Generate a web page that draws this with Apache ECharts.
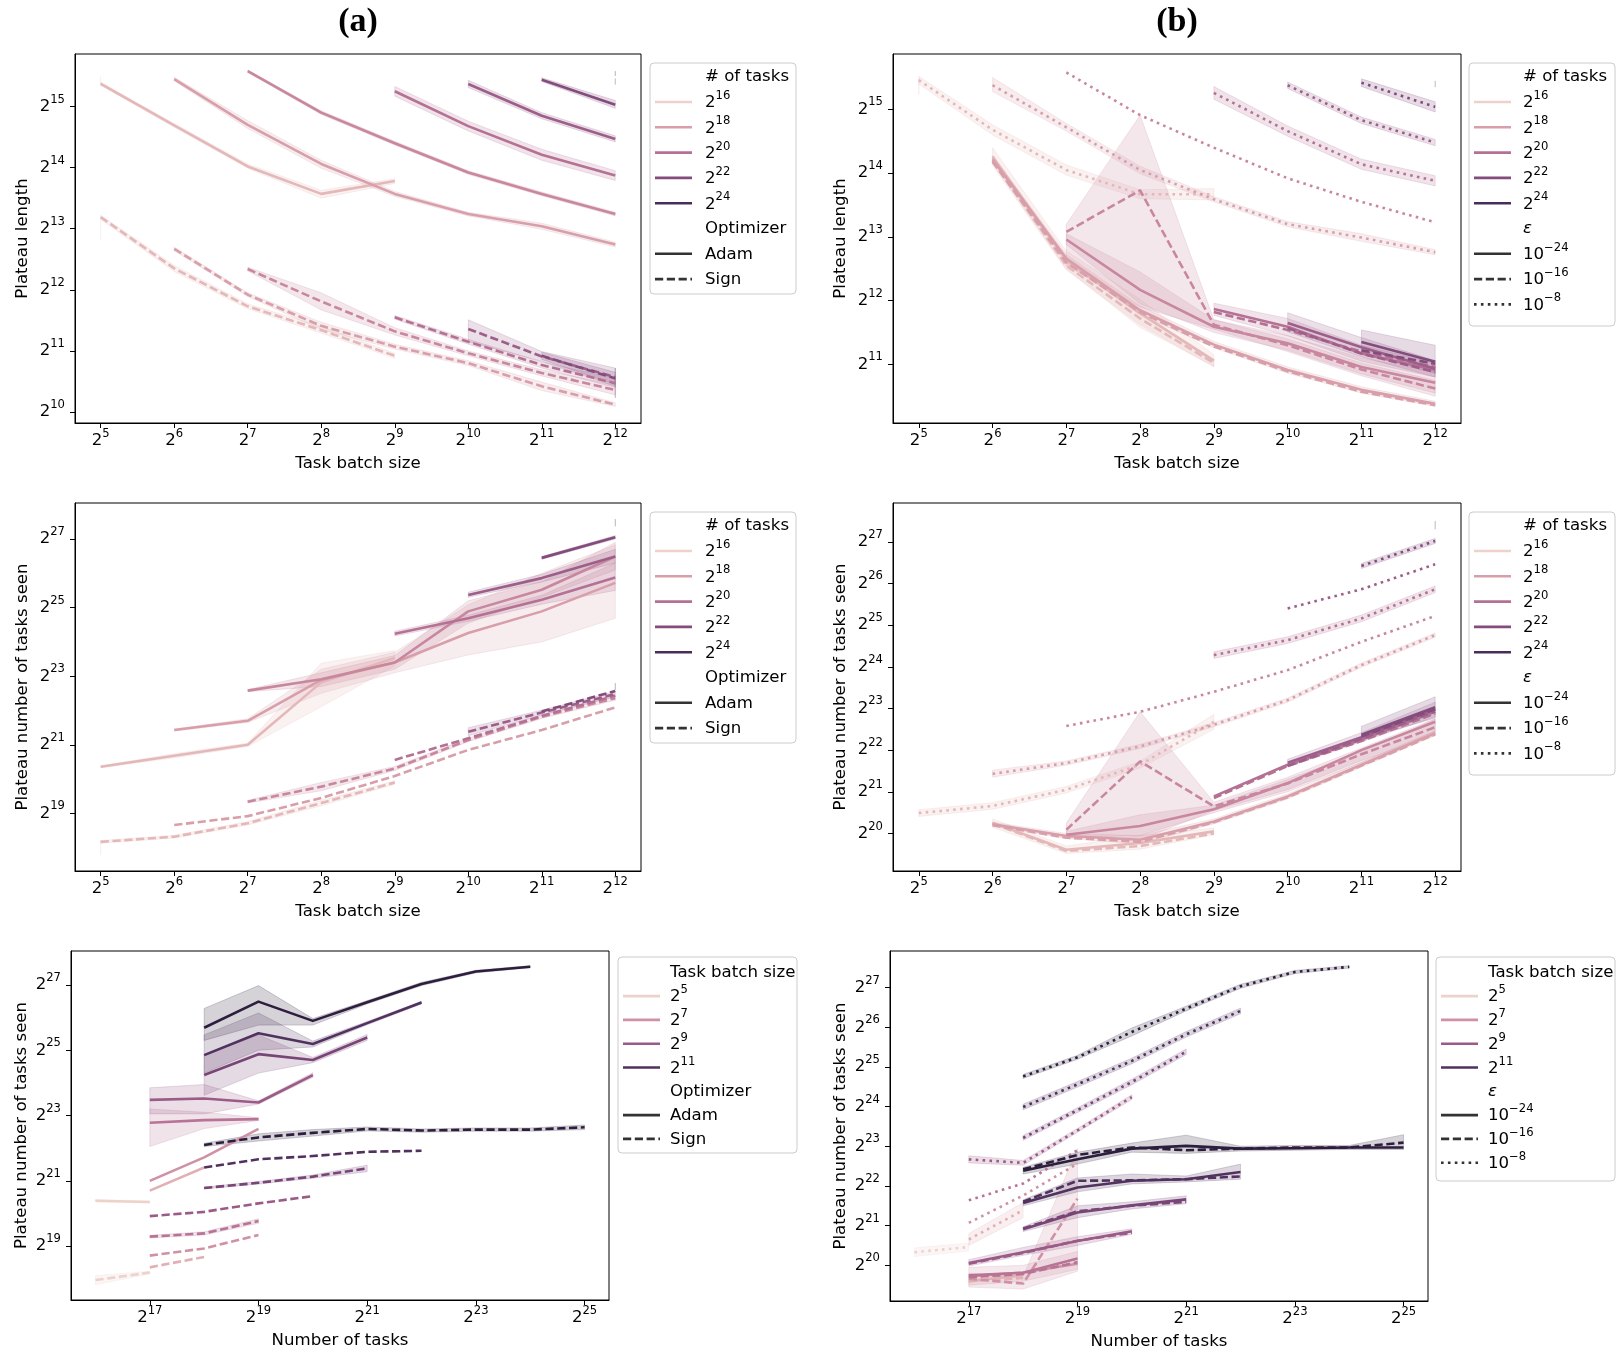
<!DOCTYPE html>
<html><head><meta charset="utf-8">
<script src="https://cdn.jsdelivr.net/npm/echarts@6/dist/echarts.min.js"></script>
<style>html,body{margin:0;padding:0;background:#fff}#c{width:1622px;height:1358px}</style>
</head><body><div id="c"></div>
<script>
// ================= DATA (all values are base-2 exponents) =================
// axis ticks
const BATCH_TICKS = [5, 6, 7, 8, 9, 10, 11, 12];
const NTASK_TICKS = [17, 19, 21, 23, 25];
const A1_Y_TICKS = [10, 11, 12, 13, 14, 15];
const B1_Y_TICKS = [11, 12, 13, 14, 15];
const A2_Y_TICKS = [19, 21, 23, 25, 27];
const B2_Y_TICKS = [20, 21, 22, 23, 24, 25, 26, 27];
const C_Y_TICKS = [19, 21, 23, 25, 27];
const D_Y_TICKS = [20, 21, 22, 23, 24, 25, 26, 27];
// legend entries
const LEGEND_TASK_EXPS = [16, 18, 20, 22, 24];
const LEGEND_BATCH_EXPS = [5, 7, 9, 11];
const LEGEND_OPTIMIZERS = ['Adam', 'Sign'];
const LEGEND_EPS_EXPS = ['\u221224', '\u221216', '\u22128'];

// ---- (a) top: plateau length vs task batch size, hue = # of tasks ----
const A1_ADAM_N16_CI = [[5, 15.33, 15.49]];
const A1_ADAM_N17 = [[5, 15.37], [6, 14.69], [7, 14.02], [8, 13.57], [9, 13.78]];
const A1_ADAM_N17_CI = [[5, 15.35, 15.40], [6, 14.66, 14.72], [7, 13.99, 14.06], [8, 13.50, 13.63], [9, 13.74, 13.82]];
const A1_ADAM_N18 = [[6, 15.45], [7, 14.70], [8, 14.06], [9, 13.57], [10, 13.24], [11, 13.04], [12, 12.74]];
const A1_ADAM_N18_CI = [[6, 15.42, 15.48], [7, 14.64, 14.77], [8, 13.99, 14.12], [9, 13.53, 13.61], [10, 13.21, 13.27], [11, 12.99, 13.09], [12, 12.70, 12.78]];
const A1_ADAM_N19 = [[7, 15.58], [8, 14.90], [9, 14.40], [10, 13.92], [11, 13.57], [12, 13.24]];
const A1_ADAM_N19_CI = [[7, 15.56, 15.60], [8, 14.87, 14.93], [9, 14.37, 14.43], [10, 13.89, 13.95], [11, 13.54, 13.60], [12, 13.21, 13.27]];
const A1_ADAM_N20 = [[9, 15.25], [10, 14.68], [11, 14.21], [12, 13.87]];
const A1_ADAM_N20_CI = [[9, 15.17, 15.33], [10, 14.60, 14.76], [11, 14.12, 14.30], [12, 13.79, 13.95]];
const A1_ADAM_N21 = [[10, 15.37], [11, 14.85], [12, 14.47]];
const A1_ADAM_N21_CI = [[10, 15.31, 15.43], [11, 14.80, 14.90], [12, 14.42, 14.52]];
const A1_ADAM_N22 = [[11, 15.44], [12, 15.03]];
const A1_ADAM_N22_CI = [[11, 15.41, 15.47], [12, 14.97, 15.10]];
const A1_ADAM_N23_CI = [[12, 15.36, 15.46]];
const A1_ADAM_N24_CI = [[12, 15.50, 15.58]];
const A1_SIGN_N16_CI = [[5, 12.82, 13.17]];
const A1_SIGN_N17 = [[5, 13.19], [6, 12.35], [7, 11.73], [8, 11.34], [9, 10.92]];
const A1_SIGN_N17_CI = [[5, 13.15, 13.22], [6, 12.30, 12.40], [7, 11.69, 11.77], [8, 11.29, 11.40], [9, 10.88, 10.96]];
const A1_SIGN_N18 = [[6, 12.67], [7, 11.92], [8, 11.41], [9, 11.07], [10, 10.80], [11, 10.42], [12, 10.12]];
const A1_SIGN_N18_CI = [[6, 12.64, 12.70], [7, 11.89, 11.95], [8, 11.35, 11.47], [9, 11.03, 11.11], [10, 10.76, 10.84], [11, 10.35, 10.49], [12, 10.09, 10.15]];
const A1_SIGN_N19 = [[7, 12.34], [8, 11.81], [9, 11.32], [10, 10.96], [11, 10.64], [12, 10.36]];
const A1_SIGN_N19_CI = [[7, 12.31, 12.37], [8, 11.67, 11.95], [9, 11.26, 11.38], [10, 10.92, 11.00], [11, 10.59, 10.69], [12, 10.28, 10.44]];
const A1_SIGN_N20 = [[9, 11.55], [10, 11.15], [11, 10.77], [12, 10.47]];
const A1_SIGN_N20_CI = [[9, 11.52, 11.58], [10, 11.11, 11.19], [11, 10.72, 10.82], [12, 10.40, 10.55]];
const A1_SIGN_N21 = [[10, 11.36], [11, 10.91], [12, 10.57]];
const A1_SIGN_N21_CI = [[10, 11.15, 11.51], [11, 10.83, 10.99], [12, 10.42, 10.72]];
const A1_SIGN_N22 = [[11, 10.92], [12, 10.55]];
const A1_SIGN_N22_CI = [[11, 10.86, 10.98], [12, 10.45, 10.65]];
const A1_SIGN_N24_CI = [[12, 10.23, 10.72]];

// ---- (b) top: plateau length vs task batch size, style = epsilon ----
const B1_E8_N16_CI = [[5, 15.23, 15.49]];
const B1_E8_N17 = [[5, 15.46], [6, 14.68], [7, 14.05], [8, 13.67], [9, 13.67]];
const B1_E8_N17_CI = [[5, 15.40, 15.52], [6, 14.60, 14.76], [7, 13.97, 14.13], [8, 13.60, 13.74], [9, 13.58, 13.76]];
const B1_E8_N18 = [[6, 15.38], [7, 14.72], [8, 14.05], [9, 13.59], [10, 13.20], [11, 12.99], [12, 12.76]];
const B1_E8_N18_CI = [[6, 15.28, 15.50], [7, 14.66, 14.78], [8, 13.99, 14.11], [9, 13.55, 13.63], [10, 13.16, 13.24], [11, 12.93, 13.05], [12, 12.72, 12.80]];
const B1_E8_N19 = [[7, 15.58], [8, 14.91], [9, 14.40], [10, 13.92], [11, 13.55], [12, 13.23]];
const B1_E8_N20 = [[9, 15.26], [10, 14.66], [11, 14.14], [12, 13.88]];
const B1_E8_N20_CI = [[9, 15.16, 15.36], [10, 14.58, 14.74], [11, 14.06, 14.22], [12, 13.80, 13.96]];
const B1_E8_N21 = [[10, 15.38], [11, 14.83], [12, 14.48]];
const B1_E8_N21_CI = [[10, 15.33, 15.43], [11, 14.78, 14.88], [12, 14.43, 14.53]];
const B1_E8_N22 = [[11, 15.42], [12, 15.04]];
const B1_E8_N22_CI = [[11, 15.36, 15.48], [12, 14.96, 15.12]];
const B1_E8_N23_CI = [[12, 15.35, 15.45]];
const B1_E24_N17 = [[6, 14.26], [7, 12.64], [8, 11.80], [9, 11.06]];
const B1_E24_N17_CI = [[6, 14.15, 14.40], [7, 12.50, 12.78], [8, 11.58, 12.02], [9, 10.97, 11.15]];
const B1_E24_N18 = [[6, 14.22], [7, 12.66], [8, 11.85], [9, 11.31], [10, 10.91], [11, 10.60], [12, 10.38]];
const B1_E24_N18_CI = [[6, 14.17, 14.27], [7, 12.60, 12.72], [8, 11.78, 11.92], [9, 11.26, 11.36], [10, 10.86, 10.96], [11, 10.55, 10.65], [12, 10.34, 10.42]];
const B1_E24_N19 = [[7, 12.96], [8, 12.17], [9, 11.59], [10, 11.33], [11, 10.96], [12, 10.71]];
const B1_E24_N19_CI = [[7, 12.88, 13.05], [8, 11.95, 12.45], [9, 11.50, 11.70], [10, 11.22, 11.45], [11, 10.85, 11.10], [12, 10.55, 10.88]];
const B1_E24_N20 = [[9, 11.87], [10, 11.59], [11, 11.17], [12, 10.91]];
const B1_E24_N20_CI = [[9, 11.77, 11.96], [10, 11.45, 11.72], [11, 11.05, 11.30], [12, 10.80, 11.02]];
const B1_E24_N21 = [[10, 11.65], [11, 11.27], [12, 10.93]];
const B1_E24_N21_CI = [[10, 11.51, 11.81], [11, 11.12, 11.42], [12, 10.80, 11.06]];
const B1_E24_N22 = [[11, 11.35], [12, 11.04]];
const B1_E24_N22_CI = [[11, 11.17, 11.54], [12, 10.86, 11.30]];
const B1_E16_N17 = [[6, 14.20], [7, 12.55], [8, 11.72], [9, 11.02]];
const B1_E16_N17_CI = [[6, 14.12, 14.28], [7, 12.48, 12.62], [8, 11.62, 11.82], [9, 10.96, 11.08]];
const B1_E16_N18 = [[6, 14.18], [7, 12.60], [8, 11.82], [9, 11.28], [10, 10.89], [11, 10.57], [12, 10.36]];
const B1_E16_N19 = [[7, 13.08], [8, 13.73], [9, 11.62], [10, 11.30], [11, 10.92], [12, 10.62]];
const B1_E16_N19_CI = [[7, 12.55, 13.20], [8, 11.90, 14.91], [9, 11.55, 11.70], [10, 11.20, 11.40], [11, 10.82, 11.02], [12, 10.50, 10.75]];
const B1_E16_N20 = [[9, 11.82], [10, 11.54], [11, 11.20], [12, 10.96]];
const B1_E16_N21 = [[10, 11.57], [11, 11.17], [12, 10.88]];
const B1_E16_N22 = [[11, 11.22], [12, 11.01]];

// ---- (a) middle: plateau number of tasks seen vs task batch size ----
const A2_ADAM_N17 = [[5, 20.36], [6, 20.68], [7, 21.00], [8, 22.82], [9, 23.53]];
const A2_ADAM_N17_CI = [[5, 20.33, 20.39], [6, 20.62, 20.74], [7, 20.95, 21.05], [8, 22.11, 23.38], [9, 23.30, 23.75]];
const A2_ADAM_N18 = [[6, 21.43], [7, 21.70], [8, 22.89], [9, 23.40], [10, 24.26], [11, 24.89], [12, 25.72]];
const A2_ADAM_N18_CI = [[6, 21.40, 21.46], [7, 21.65, 21.76], [8, 22.50, 23.20], [9, 23.10, 23.70], [10, 23.62, 25.08], [11, 24.00, 26.00], [12, 24.69, 26.83]];
const A2_ADAM_N19 = [[7, 22.58], [8, 22.91], [9, 23.40], [10, 24.89], [11, 25.52], [12, 26.49]];
const A2_ADAM_N19_CI = [[7, 22.55, 22.61], [8, 22.70, 23.10], [9, 23.20, 23.60], [10, 24.55, 25.20], [11, 25.30, 25.75], [12, 26.10, 26.90]];
const A2_ADAM_N20 = [[9, 24.24], [10, 24.69], [11, 25.23], [12, 25.88]];
const A2_ADAM_N20_CI = [[9, 24.17, 24.31], [10, 24.60, 24.78], [11, 25.10, 25.36], [12, 25.50, 26.30]];
const A2_ADAM_N21 = [[10, 25.37], [11, 25.86], [12, 26.49]];
const A2_ADAM_N21_CI = [[10, 25.30, 25.45], [11, 25.75, 25.97], [12, 26.30, 26.70]];
const A2_ADAM_N22 = [[11, 26.45], [12, 27.05]];
const A2_ADAM_N22_CI = [[11, 26.41, 26.49], [12, 27.00, 27.10]];
const A2_ADAM_N24_CI = [[12, 27.37, 27.58]];
const A2_SIGN_N16_CI = [[5, 17.78, 18.22]];
const A2_SIGN_N17 = [[5, 18.17], [6, 18.32], [7, 18.71], [8, 19.30], [9, 19.90]];
const A2_SIGN_N17_CI = [[5, 18.13, 18.21], [6, 18.28, 18.36], [7, 18.66, 18.76], [8, 19.22, 19.38], [9, 19.85, 19.95]];
const A2_SIGN_N18 = [[6, 18.66], [7, 18.92], [8, 19.45], [9, 20.09], [10, 20.85], [11, 21.43], [12, 22.09]];
const A2_SIGN_N19 = [[7, 19.34], [8, 19.78], [9, 20.31], [10, 21.14], [11, 21.82], [12, 22.36]];
const A2_SIGN_N19_CI = [[7, 19.30, 19.38], [8, 19.66, 19.90], [9, 20.25, 20.37], [10, 21.09, 21.19], [11, 21.77, 21.87], [12, 22.30, 22.42]];
const A2_SIGN_N20 = [[9, 20.56], [10, 21.19], [11, 21.84], [12, 22.43]];
const A2_SIGN_N21 = [[10, 21.38], [11, 21.94], [12, 22.48]];
const A2_SIGN_N21_CI = [[10, 21.26, 21.50], [11, 21.87, 22.01], [12, 22.40, 22.56]];
const A2_SIGN_N22 = [[11, 21.97], [12, 22.57]];
const A2_SIGN_N24_CI = [[12, 22.60, 22.80]];

// ---- (b) middle ----
const B2_E8_N17 = [[5, 20.49], [6, 20.66], [7, 21.05], [8, 21.65], [9, 22.68]];
const B2_E8_N17_CI = [[5, 20.41, 20.57], [6, 20.58, 20.74], [7, 20.97, 21.13], [8, 21.57, 21.73], [9, 22.50, 22.86]];
const B2_E8_N18 = [[6, 21.43], [7, 21.69], [8, 22.09], [9, 22.61], [10, 23.20], [11, 24.04], [12, 24.76]];
const B2_E8_N18_CI = [[6, 21.35, 21.52], [7, 21.64, 21.74], [8, 22.04, 22.14], [9, 22.56, 22.66], [10, 23.15, 23.25], [11, 23.99, 24.09], [12, 24.71, 24.81]];
const B2_E8_N19 = [[7, 22.58], [8, 22.92], [9, 23.40], [10, 23.92], [11, 24.60], [12, 25.22]];
const B2_E8_N20 = [[9, 24.28], [10, 24.64], [11, 25.16], [12, 25.86]];
const B2_E8_N20_CI = [[9, 24.20, 24.36], [10, 24.56, 24.72], [11, 25.08, 25.24], [12, 25.78, 25.94]];
const B2_E8_N21 = [[10, 25.40], [11, 25.86], [12, 26.46]];
const B2_E8_N22 = [[11, 26.42], [12, 27.02]];
const B2_E8_N22_CI = [[11, 26.36, 26.48], [12, 26.96, 27.08]];
const B2_E8_N23_CI = [[12, 27.30, 27.50]];
const B2_E24_N17 = [[6, 20.26], [7, 19.61], [8, 19.77], [9, 20.05]];
const B2_E24_N17_CI = [[6, 20.15, 20.35], [7, 19.52, 19.70], [8, 19.62, 19.95], [9, 19.97, 20.13]];
const B2_E24_N18 = [[6, 20.22], [7, 19.94], [8, 19.85], [9, 20.29], [10, 20.89], [11, 21.65], [12, 22.41]];
const B2_E24_N18_CI = [[6, 20.17, 20.27], [7, 19.88, 20.00], [8, 19.75, 19.95], [9, 20.23, 20.35], [10, 20.83, 20.95], [11, 21.59, 21.71], [12, 22.35, 22.47]];
const B2_E24_N19 = [[7, 19.97], [8, 20.18], [9, 20.58], [10, 21.21], [11, 22.00], [12, 22.68]];
const B2_E24_N19_CI = [[7, 19.90, 20.05], [8, 19.95, 20.45], [9, 20.50, 20.68], [10, 21.00, 21.30], [11, 21.70, 21.95], [12, 22.45, 22.75]];
const B2_E24_N20 = [[9, 20.89], [10, 21.65], [11, 22.25], [12, 22.92]];
const B2_E24_N21 = [[10, 21.70], [11, 22.31], [12, 22.98]];
const B2_E24_N21_CI = [[10, 21.60, 21.78], [11, 22.20, 22.42], [12, 22.80, 23.15]];
const B2_E24_N22 = [[11, 22.37], [12, 23.03]];
const B2_E24_N22_CI = [[11, 22.25, 22.57], [12, 22.77, 23.28]];
const B2_E16_N17 = [[6, 20.24], [7, 19.58], [8, 19.70], [9, 20.00]];
const B2_E16_N18 = [[6, 20.20], [7, 19.90], [8, 19.80], [9, 20.27], [10, 20.87], [11, 21.63], [12, 22.38]];
const B2_E16_N19 = [[7, 20.09], [8, 21.73], [9, 20.65], [10, 21.20], [11, 21.90], [12, 22.55]];
const B2_E16_N19_CI = [[7, 19.95, 20.25], [8, 19.85, 22.92], [9, 20.55, 20.75], [10, 21.05, 21.35], [11, 21.75, 22.05], [12, 22.35, 22.75]];
const B2_E16_N20 = [[9, 20.85], [10, 21.62], [11, 22.22], [12, 22.88]];
const B2_E16_N21 = [[10, 21.62], [11, 22.27], [12, 22.93]];
const B2_E16_N22 = [[11, 22.33], [12, 22.98]];

// ---- (a) bottom: tasks seen vs number of tasks, hue = task batch size ----
const C_ADAM_B5 = [[16, 20.39], [17, 20.35]];
const C_ADAM_B5_CI = [[16, 20.35, 20.43], [17, 20.32, 20.38]];
const C_ADAM_B6 = [[17, 20.70], [18, 21.41]];
const C_ADAM_B7 = [[17, 21.00], [18, 21.72], [19, 22.59]];
const C_ADAM_B8 = [[17, 22.78], [18, 22.86], [19, 22.89]];
const C_ADAM_B8_CI = [[17, 22.05, 23.20], [18, 22.60, 23.10], [19, 22.85, 22.93]];
const C_ADAM_B9 = [[17, 23.48], [18, 23.52], [19, 23.40], [20, 24.24]];
const C_ADAM_B9_CI = [[17, 23.05, 23.85], [18, 23.05, 23.95], [19, 23.35, 23.45], [20, 24.17, 24.31]];
const C_ADAM_B10 = [[18, 24.24], [19, 24.88], [20, 24.70], [21, 25.39]];
const C_ADAM_B10_CI = [[18, 23.62, 24.85], [19, 24.30, 25.47], [20, 24.62, 24.78], [21, 25.30, 25.48]];
const C_ADAM_B11 = [[18, 24.85], [19, 25.52], [20, 25.19], [21, 25.83], [22, 26.46]];
const C_ADAM_B11_CI = [[18, 24.30, 25.47], [19, 25.00, 26.14], [20, 25.10, 25.28], [21, 25.78, 25.88], [22, 26.42, 26.50]];
const C_ADAM_B12 = [[18, 25.69], [19, 26.49], [20, 25.90], [21, 26.47], [22, 27.03], [23, 27.41], [24, 27.56]];
const C_ADAM_B12_CI = [[18, 25.30, 26.28], [19, 25.77, 26.98], [20, 25.77, 25.97], [21, 26.42, 26.52], [22, 26.98, 27.08], [23, 27.37, 27.45], [24, 27.53, 27.59]];
const C_SIGN_B5 = [[16, 17.96], [17, 18.19]];
const C_SIGN_B5_CI = [[16, 17.82, 18.10], [17, 18.15, 18.23]];
const C_SIGN_B6 = [[17, 18.35], [18, 18.67]];
const C_SIGN_B7 = [[17, 18.71], [18, 18.93], [19, 19.34]];
const C_SIGN_B8 = [[17, 19.29], [18, 19.39], [19, 19.77]];
const C_SIGN_B8_CI = [[17, 19.25, 19.33], [18, 19.34, 19.44], [19, 19.70, 19.84]];
const C_SIGN_B9 = [[17, 19.92], [18, 20.05], [19, 20.31], [20, 20.53]];
const C_SIGN_B10 = [[18, 20.78], [19, 20.94], [20, 21.13], [21, 21.38]];
const C_SIGN_B10_CI = [[18, 20.75, 20.81], [19, 20.90, 20.98], [20, 21.08, 21.18], [21, 21.28, 21.48]];
const C_SIGN_B11 = [[18, 21.41], [19, 21.66], [20, 21.76], [21, 21.89], [22, 21.92]];
const C_SIGN_B12 = [[18, 22.10], [19, 22.33], [20, 22.47], [21, 22.59], [22, 22.54], [23, 22.57], [24, 22.57], [25, 22.64]];
const C_SIGN_B12_CI = [[18, 22.05, 22.15], [19, 22.22, 22.44], [20, 22.37, 22.57], [21, 22.53, 22.65], [22, 22.49, 22.59], [23, 22.52, 22.62], [24, 22.52, 22.62], [25, 22.57, 22.71]];

// ---- (b) bottom ----
const D_E8_B5 = [[16, 20.33], [17, 20.46]];
const D_E8_B5_CI = [[16, 20.22, 20.44], [17, 20.36, 20.56]];
const D_E8_B6 = [[17, 20.65], [18, 21.39]];
const D_E8_B6_CI = [[17, 20.50, 20.80], [18, 21.20, 21.58]];
const D_E8_B7 = [[17, 21.07], [18, 21.76], [19, 22.56]];
const D_E8_B8 = [[17, 21.64], [18, 22.06], [19, 22.90]];
const D_E8_B9 = [[17, 22.67], [18, 22.58], [19, 23.40], [20, 24.24]];
const D_E8_B9_CI = [[17, 22.58, 22.76], [18, 22.52, 22.64], [19, 23.35, 23.45], [20, 24.18, 24.30]];
const D_E8_B10 = [[18, 23.21], [19, 23.91], [20, 24.62], [21, 25.38]];
const D_E8_B10_CI = [[18, 23.15, 23.27], [19, 23.85, 23.97], [20, 24.55, 24.69], [21, 25.31, 25.45]];
const D_E8_B11 = [[18, 23.99], [19, 24.56], [20, 25.15], [21, 25.82], [22, 26.41]];
const D_E8_B11_CI = [[18, 23.92, 24.06], [19, 24.49, 24.63], [20, 25.08, 25.22], [21, 25.75, 25.89], [22, 26.34, 26.48]];
const D_E8_B12 = [[18, 24.76], [19, 25.24], [20, 25.88], [21, 26.47], [22, 27.03], [23, 27.39], [24, 27.52]];
const D_E8_B12_CI = [[18, 24.71, 24.81], [19, 25.19, 25.29], [20, 25.78, 25.98], [21, 26.41, 26.53], [22, 26.98, 27.08], [23, 27.35, 27.43], [24, 27.49, 27.55]];
const D_E24_B6 = [[17, 19.60], [18, 19.75]];
const D_E24_B7 = [[17, 19.72], [18, 19.82], [19, 20.04]];
const D_E24_B7_CI = [[17, 19.50, 19.95], [18, 19.60, 20.00], [19, 19.90, 20.35]];
const D_E24_B8 = [[17, 19.75], [18, 19.81], [19, 20.17]];
const D_E24_B9 = [[17, 20.06], [18, 20.33], [19, 20.61], [20, 20.86]];
const D_E24_B9_CI = [[17, 19.98, 20.14], [18, 20.25, 20.45], [19, 20.50, 20.72], [20, 20.78, 20.92]];
const D_E24_B10 = [[18, 20.91], [19, 21.33], [20, 21.51], [21, 21.66]];
const D_E24_B10_CI = [[18, 20.85, 20.97], [19, 21.20, 21.50], [20, 21.42, 21.60], [21, 21.55, 21.75]];
const D_E24_B11 = [[18, 21.57], [19, 21.96], [20, 22.13], [21, 22.17], [22, 22.35]];
const D_E24_B11_CI = [[18, 21.50, 21.65], [19, 21.85, 22.20], [20, 22.05, 22.30], [21, 22.10, 22.25], [22, 22.17, 22.55]];
const D_E24_B12 = [[18, 22.38], [19, 22.67], [20, 22.94], [21, 23.01], [22, 22.94], [23, 22.95], [24, 22.97], [25, 22.97]];
const D_E24_B12_CI = [[18, 22.30, 22.47], [19, 22.55, 22.85], [20, 22.85, 23.08], [21, 22.82, 23.28], [22, 22.88, 23.00], [23, 22.90, 23.02], [24, 22.92, 23.02], [25, 22.92, 23.29]];
const D_E16_B6 = [[17, 19.60], [18, 19.68]];
const D_E16_B7 = [[17, 19.66], [18, 19.54], [19, 21.68]];
const D_E16_B7_CI = [[17, 19.45, 19.80], [18, 19.40, 19.72], [19, 19.85, 22.94]];
const D_E16_B8 = [[17, 19.70], [18, 19.78], [19, 20.08]];
const D_E16_B9 = [[17, 20.04], [18, 20.31], [19, 20.62], [20, 20.82]];
const D_E16_B10 = [[18, 20.93], [19, 21.36], [20, 21.50], [21, 21.60]];
const D_E16_B11 = [[18, 21.60], [19, 22.13], [20, 22.14], [21, 22.17], [22, 22.24]];
const D_E16_B12 = [[18, 22.42], [19, 22.78], [20, 22.97], [21, 22.90], [22, 22.94], [23, 22.97], [24, 22.97], [25, 23.09]];

// ---- tables linking hue level, line style, line and band ----
const A1_TABLE = [
  {hue: 16, style: 'solid', ci: A1_ADAM_N16_CI},
  {hue: 17, style: 'solid', line: A1_ADAM_N17, ci: A1_ADAM_N17_CI},
  {hue: 18, style: 'solid', line: A1_ADAM_N18, ci: A1_ADAM_N18_CI},
  {hue: 19, style: 'solid', line: A1_ADAM_N19, ci: A1_ADAM_N19_CI},
  {hue: 20, style: 'solid', line: A1_ADAM_N20, ci: A1_ADAM_N20_CI},
  {hue: 21, style: 'solid', line: A1_ADAM_N21, ci: A1_ADAM_N21_CI},
  {hue: 22, style: 'solid', line: A1_ADAM_N22, ci: A1_ADAM_N22_CI},
  {hue: 23, style: 'solid', ci: A1_ADAM_N23_CI},
  {hue: 24, style: 'solid', ci: A1_ADAM_N24_CI},
  {hue: 16, style: 'dashed', ci: A1_SIGN_N16_CI},
  {hue: 17, style: 'dashed', line: A1_SIGN_N17, ci: A1_SIGN_N17_CI},
  {hue: 18, style: 'dashed', line: A1_SIGN_N18, ci: A1_SIGN_N18_CI},
  {hue: 19, style: 'dashed', line: A1_SIGN_N19, ci: A1_SIGN_N19_CI},
  {hue: 20, style: 'dashed', line: A1_SIGN_N20, ci: A1_SIGN_N20_CI},
  {hue: 21, style: 'dashed', line: A1_SIGN_N21, ci: A1_SIGN_N21_CI},
  {hue: 22, style: 'dashed', line: A1_SIGN_N22, ci: A1_SIGN_N22_CI},
  {hue: 24, style: 'dashed', ci: A1_SIGN_N24_CI}
];
const B1_TABLE = [
  {hue: 16, style: 'dotted', ci: B1_E8_N16_CI},
  {hue: 17, style: 'dotted', line: B1_E8_N17, ci: B1_E8_N17_CI},
  {hue: 18, style: 'dotted', line: B1_E8_N18, ci: B1_E8_N18_CI},
  {hue: 19, style: 'dotted', line: B1_E8_N19},
  {hue: 20, style: 'dotted', line: B1_E8_N20, ci: B1_E8_N20_CI},
  {hue: 21, style: 'dotted', line: B1_E8_N21, ci: B1_E8_N21_CI},
  {hue: 22, style: 'dotted', line: B1_E8_N22, ci: B1_E8_N22_CI},
  {hue: 23, style: 'dotted', ci: B1_E8_N23_CI},
  {hue: 17, style: 'solid', line: B1_E24_N17, ci: B1_E24_N17_CI},
  {hue: 17, style: 'dashed', line: B1_E16_N17, ci: B1_E16_N17_CI},
  {hue: 18, style: 'solid', line: B1_E24_N18, ci: B1_E24_N18_CI},
  {hue: 18, style: 'dashed', line: B1_E16_N18},
  {hue: 19, style: 'solid', line: B1_E24_N19, ci: B1_E24_N19_CI},
  {hue: 19, style: 'dashed', line: B1_E16_N19, ci: B1_E16_N19_CI},
  {hue: 20, style: 'solid', line: B1_E24_N20, ci: B1_E24_N20_CI},
  {hue: 20, style: 'dashed', line: B1_E16_N20},
  {hue: 21, style: 'solid', line: B1_E24_N21, ci: B1_E24_N21_CI},
  {hue: 21, style: 'dashed', line: B1_E16_N21},
  {hue: 22, style: 'solid', line: B1_E24_N22, ci: B1_E24_N22_CI},
  {hue: 22, style: 'dashed', line: B1_E16_N22}
];
const A2_TABLE = [
  {hue: 17, style: 'solid', line: A2_ADAM_N17, ci: A2_ADAM_N17_CI},
  {hue: 18, style: 'solid', line: A2_ADAM_N18, ci: A2_ADAM_N18_CI},
  {hue: 19, style: 'solid', line: A2_ADAM_N19, ci: A2_ADAM_N19_CI},
  {hue: 20, style: 'solid', line: A2_ADAM_N20, ci: A2_ADAM_N20_CI},
  {hue: 21, style: 'solid', line: A2_ADAM_N21, ci: A2_ADAM_N21_CI},
  {hue: 22, style: 'solid', line: A2_ADAM_N22, ci: A2_ADAM_N22_CI},
  {hue: 24, style: 'solid', ci: A2_ADAM_N24_CI},
  {hue: 16, style: 'dashed', ci: A2_SIGN_N16_CI},
  {hue: 17, style: 'dashed', line: A2_SIGN_N17, ci: A2_SIGN_N17_CI},
  {hue: 18, style: 'dashed', line: A2_SIGN_N18},
  {hue: 19, style: 'dashed', line: A2_SIGN_N19, ci: A2_SIGN_N19_CI},
  {hue: 20, style: 'dashed', line: A2_SIGN_N20},
  {hue: 21, style: 'dashed', line: A2_SIGN_N21, ci: A2_SIGN_N21_CI},
  {hue: 22, style: 'dashed', line: A2_SIGN_N22},
  {hue: 24, style: 'dashed', ci: A2_SIGN_N24_CI}
];
const B2_TABLE = [
  {hue: 17, style: 'dotted', line: B2_E8_N17, ci: B2_E8_N17_CI},
  {hue: 18, style: 'dotted', line: B2_E8_N18, ci: B2_E8_N18_CI},
  {hue: 19, style: 'dotted', line: B2_E8_N19},
  {hue: 20, style: 'dotted', line: B2_E8_N20, ci: B2_E8_N20_CI},
  {hue: 21, style: 'dotted', line: B2_E8_N21},
  {hue: 22, style: 'dotted', line: B2_E8_N22, ci: B2_E8_N22_CI},
  {hue: 23, style: 'dotted', ci: B2_E8_N23_CI},
  {hue: 17, style: 'solid', line: B2_E24_N17, ci: B2_E24_N17_CI},
  {hue: 17, style: 'dashed', line: B2_E16_N17},
  {hue: 18, style: 'solid', line: B2_E24_N18, ci: B2_E24_N18_CI},
  {hue: 18, style: 'dashed', line: B2_E16_N18},
  {hue: 19, style: 'solid', line: B2_E24_N19, ci: B2_E24_N19_CI},
  {hue: 19, style: 'dashed', line: B2_E16_N19, ci: B2_E16_N19_CI},
  {hue: 20, style: 'solid', line: B2_E24_N20},
  {hue: 20, style: 'dashed', line: B2_E16_N20},
  {hue: 21, style: 'solid', line: B2_E24_N21, ci: B2_E24_N21_CI},
  {hue: 21, style: 'dashed', line: B2_E16_N21},
  {hue: 22, style: 'solid', line: B2_E24_N22, ci: B2_E24_N22_CI},
  {hue: 22, style: 'dashed', line: B2_E16_N22}
];
const C_TABLE = [
  {hue: 5, style: 'solid', line: C_ADAM_B5, ci: C_ADAM_B5_CI},
  {hue: 6, style: 'solid', line: C_ADAM_B6},
  {hue: 7, style: 'solid', line: C_ADAM_B7},
  {hue: 8, style: 'solid', line: C_ADAM_B8, ci: C_ADAM_B8_CI},
  {hue: 9, style: 'solid', line: C_ADAM_B9, ci: C_ADAM_B9_CI},
  {hue: 10, style: 'solid', line: C_ADAM_B10, ci: C_ADAM_B10_CI},
  {hue: 11, style: 'solid', line: C_ADAM_B11, ci: C_ADAM_B11_CI},
  {hue: 12, style: 'solid', line: C_ADAM_B12, ci: C_ADAM_B12_CI},
  {hue: 5, style: 'dashed', line: C_SIGN_B5, ci: C_SIGN_B5_CI},
  {hue: 6, style: 'dashed', line: C_SIGN_B6},
  {hue: 7, style: 'dashed', line: C_SIGN_B7},
  {hue: 8, style: 'dashed', line: C_SIGN_B8, ci: C_SIGN_B8_CI},
  {hue: 9, style: 'dashed', line: C_SIGN_B9},
  {hue: 10, style: 'dashed', line: C_SIGN_B10, ci: C_SIGN_B10_CI},
  {hue: 11, style: 'dashed', line: C_SIGN_B11},
  {hue: 12, style: 'dashed', line: C_SIGN_B12, ci: C_SIGN_B12_CI}
];
const D_TABLE = [
  {hue: 5, style: 'dotted', line: D_E8_B5, ci: D_E8_B5_CI},
  {hue: 6, style: 'dotted', line: D_E8_B6, ci: D_E8_B6_CI},
  {hue: 7, style: 'dotted', line: D_E8_B7},
  {hue: 8, style: 'dotted', line: D_E8_B8},
  {hue: 9, style: 'dotted', line: D_E8_B9, ci: D_E8_B9_CI},
  {hue: 10, style: 'dotted', line: D_E8_B10, ci: D_E8_B10_CI},
  {hue: 11, style: 'dotted', line: D_E8_B11, ci: D_E8_B11_CI},
  {hue: 12, style: 'dotted', line: D_E8_B12, ci: D_E8_B12_CI},
  {hue: 6, style: 'solid', line: D_E24_B6},
  {hue: 6, style: 'dashed', line: D_E16_B6},
  {hue: 7, style: 'solid', line: D_E24_B7, ci: D_E24_B7_CI},
  {hue: 7, style: 'dashed', line: D_E16_B7, ci: D_E16_B7_CI},
  {hue: 8, style: 'solid', line: D_E24_B8},
  {hue: 8, style: 'dashed', line: D_E16_B8},
  {hue: 9, style: 'solid', line: D_E24_B9, ci: D_E24_B9_CI},
  {hue: 9, style: 'dashed', line: D_E16_B9},
  {hue: 10, style: 'solid', line: D_E24_B10, ci: D_E24_B10_CI},
  {hue: 10, style: 'dashed', line: D_E16_B10},
  {hue: 11, style: 'solid', line: D_E24_B11, ci: D_E24_B11_CI},
  {hue: 11, style: 'dashed', line: D_E16_B11},
  {hue: 12, style: 'solid', line: D_E24_B12, ci: D_E24_B12_CI},
  {hue: 12, style: 'dashed', line: D_E16_B12}
];

// ================= STYLE / LAYOUT =================
const FONT = 'DejaVu Sans';
const FS = 16.6, FS_SUP = 11.6;
const LW = 2.6;
const DASH = {solid: 'solid', dashed: [8.2, 3.6], dotted: [2.6, 4.3]};
const GRAY = '#333333';

// seaborn default cubehelix colormap (light -> dark)
function chColor(t, alpha) {
  const x = 0.85 - 0.7 * t;
  const a = 0.4 * x * (1 - x);
  const phi = 2 * Math.PI * (0.4 * x);
  const c = Math.cos(phi), s = Math.sin(phi);
  const cl = v => Math.round(Math.max(0, Math.min(1, v)) * 255);
  const r = cl(x + a * (-0.14861 * c + 1.78277 * s));
  const g = cl(x + a * (-0.29227 * c - 0.90649 * s));
  const b = cl(x + a * (1.97294 * c));
  return 'rgba(' + r + ',' + g + ',' + b + ',' + alpha + ')';
}
const TASK_HUE = [16, 9];   // min, span of log2(# of tasks)
const BATCH_HUE = [5, 7];   // min, span of log2(task batch size)

const RICH = {
  b: {fontSize: FS, fontFamily: FONT, color: '#000', lineHeight: 26},
  s: {fontSize: FS_SUP, fontFamily: FONT, color: '#000', lineHeight: 10, verticalAlign: 'top'}
};
const pow2 = v => '{b|2}{s|' + v + '}';

const GRIDS = [
  {left: 75, top: 54, width: 566, height: 369},
  {left: 893, top: 54, width: 568, height: 369},
  {left: 75, top: 503, width: 566, height: 368},
  {left: 893, top: 503, width: 568, height: 368},
  {left: 71, top: 951, width: 538, height: 349},
  {left: 890, top: 951, width: 538, height: 350}
];
const X_RANGES = [[4.65, 12.35], [4.65, 12.35], [4.65, 12.35], [4.65, 12.35], [15.55, 25.45], [15.55, 25.45]];
const Y_RANGES = [[9.82, 15.86], [10.08, 15.87], [17.32, 28.05], [19.1, 27.93], [17.35, 28.04], [19.1, 27.92]];
const X_TICKS = [BATCH_TICKS, BATCH_TICKS, BATCH_TICKS, BATCH_TICKS, NTASK_TICKS, NTASK_TICKS];
const Y_TICKS = [A1_Y_TICKS, B1_Y_TICKS, A2_Y_TICKS, B2_Y_TICKS, C_Y_TICKS, D_Y_TICKS];
const X_NAMES = ['Task batch size', 'Task batch size', 'Task batch size', 'Task batch size', 'Number of tasks', 'Number of tasks'];
const Y_NAMES = ['Plateau length', 'Plateau length', 'Plateau number of tasks seen', 'Plateau number of tasks seen', 'Plateau number of tasks seen', 'Plateau number of tasks seen'];
const Y_NAME_GAPS = [44, 44, 44, 44, 41, 41];

const grids = GRIDS.map(g => Object.assign({show: true, borderColor: '#000', borderWidth: 1, backgroundColor: 'transparent', containLabel: false, outerBoundsMode: 'none'}, g));
const xAxes = GRIDS.map((g, i) => ({
  type: 'value', gridIndex: i, min: X_RANGES[i][0], max: X_RANGES[i][1],
  name: X_NAMES[i], nameLocation: 'middle', nameGap: 32,
  nameTextStyle: {fontFamily: FONT, fontSize: FS, color: '#000'},
  axisLine: {show: true, onZero: false, lineStyle: {color: '#000', width: 1}},
  axisTick: {show: true, inside: false, length: 5, customValues: X_TICKS[i], lineStyle: {color: '#000', width: 1}},
  axisLabel: {customValues: X_TICKS[i], formatter: v => pow2(v), rich: RICH, margin: 5, color: '#000'},
  splitLine: {show: false}, minorTick: {show: false}
}));
const yAxes = GRIDS.map((g, i) => ({
  type: 'value', gridIndex: i, min: Y_RANGES[i][0], max: Y_RANGES[i][1],
  name: Y_NAMES[i], nameLocation: 'middle', nameGap: Y_NAME_GAPS[i], nameRotate: 90,
  nameTextStyle: {fontFamily: FONT, fontSize: FS, color: '#000'},
  axisLine: {show: true, onZero: false, lineStyle: {color: '#000', width: 1}},
  axisTick: {show: true, inside: false, length: 5, customValues: Y_TICKS[i], lineStyle: {color: '#000', width: 1}},
  axisLabel: {customValues: Y_TICKS[i], formatter: v => pow2(v), rich: RICH, margin: 10, color: '#000'},
  splitLine: {show: false}
}));

const bandSeries = [];
const lineSeries = [];
function addPanel(gi, table, hueRange) {
  table.forEach(r => {
    const t = (r.hue - hueRange[0]) / hueRange[1];
    if (r.ci) {
      const pts = r.ci;
      const col = chColor(t, 0.2);
      bandSeries.push({
        type: 'custom', xAxisIndex: gi, yAxisIndex: gi, data: pts, silent: true, clip: true, z: 1,
        encode: {x: 0, y: [1, 2]},
        renderItem: function (params, api) {
          if (params.dataIndex !== 0) return null;
          const top = pts.map(p => api.coord([p[0], p[2]]));
          const bot = pts.map(p => api.coord([p[0], p[1]])).reverse();
          return {type: 'polygon', shape: {points: top.concat(bot)}, style: {fill: col, stroke: col, lineWidth: 1}};
        }
      });
    }
    if (r.line) {
      lineSeries.push({
        type: 'line', xAxisIndex: gi, yAxisIndex: gi, data: r.line, symbol: 'none', showSymbol: false,
        silent: true, clip: true, z: 3,
        lineStyle: {color: chColor(t, 1), width: LW, type: DASH[r.style], cap: 'butt', join: 'round'}
      });
    }
  });
}
addPanel(0, A1_TABLE, TASK_HUE);
addPanel(1, B1_TABLE, TASK_HUE);
addPanel(2, A2_TABLE, TASK_HUE);
addPanel(3, B2_TABLE, TASK_HUE);
addPanel(4, C_TABLE, BATCH_HUE);
addPanel(5, D_TABLE, BATCH_HUE);

// ================= LEGENDS (graphic) =================
const graphic = [];
function txt(x, y, text, extra) {
  graphic.push({type: 'text', x: x, y: y, z: 101, silent: true,
    style: Object.assign({text: text, fontFamily: FONT, fontSize: FS, fill: '#000', align: 'left', verticalAlign: 'middle'}, extra || {})});
}
function icon(x0, x1, y, color, dash) {
  graphic.push({type: 'line', z: 101, silent: true, shape: {x1: x0, y1: y, x2: x1, y2: y},
    style: {stroke: color, lineWidth: LW, lineDash: dash === 'solid' ? null : dash, lineCap: 'butt'}});
}
// rows: {kind:'head'|'hue'|'style', label, t, dash}
function legend(box, rowY0, step, iconX0, iconX1, textX, rows) {
  graphic.push({type: 'rect', z: 100, silent: true, shape: {x: box[0], y: box[1], width: box[2], height: box[3], r: 4},
    style: {fill: 'rgba(255,255,255,0.8)', stroke: '#cccccc', lineWidth: 1}});
  rows.forEach((r, i) => {
    const y = rowY0 + i * step;
    if (r.kind === 'hue') {
      icon(iconX0, iconX1, y, chColor(r.t, 1), 'solid');
      txt(textX, y + 1, r.label, {rich: RICH});
    } else if (r.kind === 'style') {
      icon(iconX0, iconX1, y, GRAY, r.dash);
      txt(textX, y + 1, r.label, r.rich ? {rich: RICH} : {});
    } else {
      txt(textX, y, r.label, r.italic ? {fontStyle: 'italic'} : {});
    }
  });
}
const taskRows = [{kind: 'head', label: '# of tasks'}].concat(
  LEGEND_TASK_EXPS.map(e => ({kind: 'hue', label: pow2(e), t: (e - TASK_HUE[0]) / TASK_HUE[1]})));
const batchRows = [{kind: 'head', label: 'Task batch size'}].concat(
  LEGEND_BATCH_EXPS.map(e => ({kind: 'hue', label: pow2(e), t: (e - BATCH_HUE[0]) / BATCH_HUE[1]})));
const optRows = [{kind: 'head', label: 'Optimizer'},
  {kind: 'style', label: LEGEND_OPTIMIZERS[0], dash: DASH.solid},
  {kind: 'style', label: LEGEND_OPTIMIZERS[1], dash: DASH.dashed}];
const epsRows = [{kind: 'head', label: '\u03b5', italic: true},
  {kind: 'style', label: '{b|10}{s|' + LEGEND_EPS_EXPS[0] + '}', dash: DASH.solid, rich: true},
  {kind: 'style', label: '{b|10}{s|' + LEGEND_EPS_EXPS[1] + '}', dash: DASH.dashed, rich: true},
  {kind: 'style', label: '{b|10}{s|' + LEGEND_EPS_EXPS[2] + '}', dash: DASH.dotted, rich: true}];

legend([650, 63, 146, 231], 76.7, 25.3, 655, 692, 705, taskRows.concat(optRows));
legend([1469, 63, 146, 263], 76.7, 25.3, 1474, 1511, 1523, taskRows.concat(epsRows));
legend([650, 512, 146, 231], 525.7, 25.3, 655, 692, 705, taskRows.concat(optRows));
legend([1469, 512, 146, 263], 525.7, 25.3, 1474, 1511, 1523, taskRows.concat(epsRows));
legend([618, 957, 179, 196], 972.3, 23.8, 623, 660, 670, batchRows.concat(optRows));
legend([1436, 957, 179, 224], 972.3, 23.8, 1441, 1478, 1488, batchRows.concat(epsRows));

// panel titles
graphic.push({type: 'text', x: 358, y: 22, silent: true, style: {text: '(a)', fontFamily: 'Liberation Serif', fontWeight: 'bold', fontSize: 34, fill: '#000', align: 'center', verticalAlign: 'middle'}});
graphic.push({type: 'text', x: 1177, y: 22, silent: true, style: {text: '(b)', fontFamily: 'Liberation Serif', fontWeight: 'bold', fontSize: 34, fill: '#000', align: 'center', verticalAlign: 'middle'}});

const chart = echarts.init(document.getElementById('c'), null, {renderer: 'canvas'});
chart.setOption({
  animation: false,
  backgroundColor: '#ffffff',
  textStyle: {fontFamily: FONT},
  grid: grids,
  xAxis: xAxes,
  yAxis: yAxes,
  series: bandSeries.concat(lineSeries),
  graphic: graphic
});
</script>
</body></html>
